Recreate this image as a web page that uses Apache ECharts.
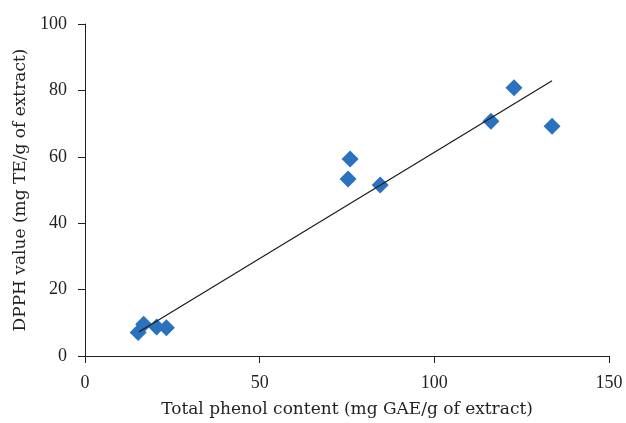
<!DOCTYPE html>
<html>
<head>
<meta charset="utf-8">
<script src="https://cdn.jsdelivr.net/npm/echarts@6/dist/echarts.min.js"></script>
<style>
  html, body { margin: 0; padding: 0; background: #fff; }
  #main { width: 626px; height: 423px; }
</style>
</head>
<body>
<div id="main"></div>
<script>
// total phenol content (mg GAE/g) vs DPPH (mg TE/g)
var phenol = [15.2, 16.8, 20.5, 23.3, 75.3, 75.9, 84.5, 116.2, 122.8, 133.7];
var dpph = [7.1, 9.6, 8.7, 8.5, 53.3, 59.3, 51.5, 70.7, 80.8, 69.2];
// linear trend line end points
var trendX = [15.4, 133.7];
var trendY = [7.2, 82.9];

var tickFont = '"Liberation Serif", serif';
var titleFont = '"DejaVu Serif", serif';
var ink = '#231f20';

var chart = echarts.init(document.getElementById('main'));
var option = {
  animation: false,
  grid: { left: 85, right: 17, top: 24, bottom: 65 },
  xAxis: {
    type: 'value',
    min: 0, max: 150, interval: 50,
    name: 'Total phenol content (mg GAE/g of extract)',
    nameLocation: 'middle',
    nameGap: 45,
    nameTextStyle: { fontFamily: titleFont, fontSize: 17, color: ink },
    axisLine: { lineStyle: { color: ink, width: 1 } },
    axisTick: { show: true, length: 7, lineStyle: { color: ink } },
    axisLabel: { fontFamily: tickFont, fontSize: 18, color: ink, margin: 18 },
    splitLine: { show: false }
  },
  yAxis: {
    type: 'value',
    min: 0, max: 100, interval: 20,
    name: 'DPPH value (mg TE/g of extract)',
    nameLocation: 'middle',
    nameGap: 48,
    nameTextStyle: { fontFamily: titleFont, fontSize: 17, color: ink },
    axisLine: { show: true, lineStyle: { color: ink, width: 1 } },
    axisTick: { show: true, length: 7, lineStyle: { color: ink } },
    axisLabel: { fontFamily: tickFont, fontSize: 18, color: ink, margin: 18 },
    splitLine: { show: false }
  },
  series: [
    {
      type: 'line',
      data: trendX.map(function (x, i) { return [x, trendY[i]]; }),
      showSymbol: false,
      lineStyle: { color: '#1a1a1a', width: 1.2 },
      z: 3
    },
    {
      type: 'scatter',
      symbol: 'diamond',
      symbolSize: [17, 17],
      itemStyle: { color: '#2a72be', opacity: 1 },
      data: phenol.map(function (x, i) { return [x, dpph[i]]; }),
      z: 2
    }
  ]
};
chart.setOption(option);
</script>
</body>
</html>
